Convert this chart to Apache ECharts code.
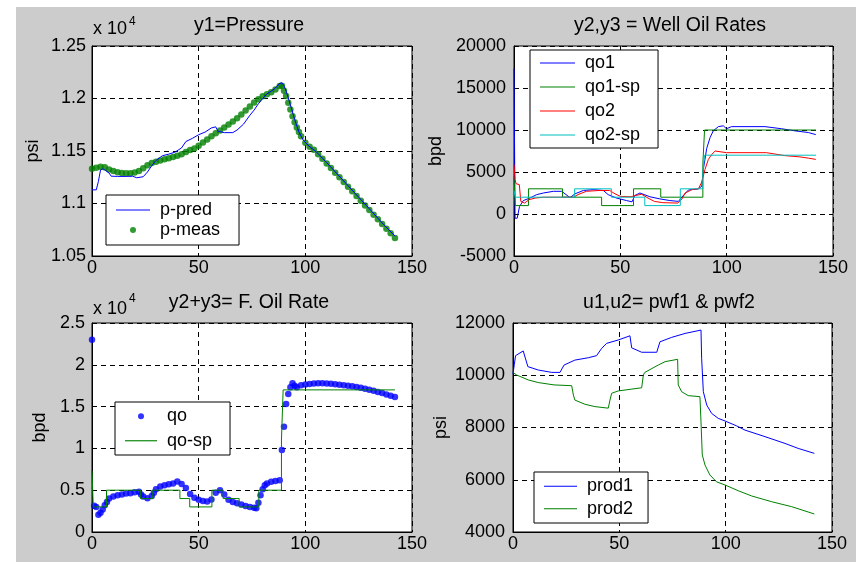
<!DOCTYPE html>
<html>
<head>
<meta charset="utf-8">
<script src="https://cdn.jsdelivr.net/npm/echarts@6/dist/echarts.min.js"></script>
<style>
html,body{margin:0;padding:0;background:#fff}
#main{width:856px;height:562px}
</style>
</head>
<body>
<div id="main"></div>
<script>
// ---- values ----
// y1 = pressure (x 10^4 psi)
var pPredT = [0,2,3,4,5,6,8,9,12,16,19,21,24,26,28,30,33,36,39,42,44,47,50,53,56,58,59,62,66,68,71,74,76,78,80,82,84,86,88,89,90,91,93,95,97,99,101,103,105,110,120,130,136,142];
var pPredV = [1.113,1.113,1.121,1.132,1.133,1.132,1.129,1.126,1.1258,1.1258,1.126,1.1245,1.1255,1.130,1.136,1.141,1.1455,1.147,1.149,1.153,1.159,1.162,1.1655,1.168,1.172,1.173,1.169,1.1675,1.1675,1.170,1.1755,1.184,1.189,1.195,1.2,1.2045,1.207,1.210,1.2145,1.215,1.212,1.207,1.194,1.180,1.168,1.1605,1.156,1.1525,1.1495,1.139,1.117,1.095,1.0815,1.069];
var pMeasT = [0,2,4,6,8,10,12,14,16,18,20,22,24,26,28,30,32,34,36,38,40,42,44,46,48,50,52,54,56,58,60,62,64,66,68,70,72,74,76,78,80,82,84,86,88,89,90,91,92,93,94,95,96,97,98,100,102,104,106,108,110,112,114,116,118,120,122,124,126,128,130,132,134,136,138,140,142];
var pMeasV = [1.133,1.134,1.135,1.1345,1.1325,1.131,1.1298,1.129,1.1287,1.1288,1.1295,1.131,1.1335,1.1365,1.1385,1.1398,1.141,1.1422,1.1432,1.1442,1.1455,1.147,1.149,1.151,1.1525,1.155,1.158,1.161,1.164,1.167,1.1695,1.1725,1.1752,1.178,1.1812,1.1848,1.1885,1.1925,1.1962,1.1992,1.2022,1.204,1.206,1.2085,1.2118,1.2122,1.2075,1.2025,1.196,1.1895,1.183,1.1775,1.1725,1.168,1.164,1.1578,1.154,1.1512,1.147,1.1426,1.1382,1.1338,1.1293,1.1249,1.1204,1.116,1.1116,1.1071,1.1027,1.0982,1.0938,1.0893,1.0849,1.0804,1.076,1.0716,1.0671];

// y2,y3 = well oil rates (bpd)
var qo1T = [0,0.5,1.5,2.2,2.6,4.4,7.5,10.6,13.8,18.5,22.4,24,26.3,28.7,32.6,37.3,42,44.3,48.2,52.9,55.5,56.8,59.2,63.9,68.6,73.3,77.3,78.9,82,86.7,88.3,89,89.8,90.6,92.2,93.7,96.1,98.4,99.9,102.3,118,125.8,132.1,138.4,141.9];
var qo1V = [17300,-500,-500,-450,900,1600,1900,2300,2500,2700,2700,2400,1950,2400,2800,2900,2800,2300,1900,1600,1450,2200,2500,2050,1800,1600,1500,2000,2850,3000,3300,5300,6500,7800,9100,9900,10400,10500,10150,10400,10400,10150,9900,9700,9450];
var qo1SpT = [0,0.6,6.8,22.8,41.2,56.2,69,88.8,89.6,142];
var qo1SpV = [4500,1000,3000,2000,1000,3000,2000,6000,10000,10000];
var qo2T = [0,0.5,1,2.5,3.2,5,7,10,14,20,25,28,30,34,40,45,47.5,50,55,57,60,63,66,70,77,79,80.5,83.6,86.7,88.3,89.8,91.4,93,94.6,99.9,118.7,127.3,134.4,138.4,141.9];
var qo2V = [5900,4100,3600,3500,1500,1300,1700,1900,2000,2000,2000,2000,2300,2700,2800,2800,2400,2100,2050,2200,2350,1900,1500,1350,1300,1800,2500,2900,3000,3800,5300,6500,7100,7500,7300,7300,6950,6800,6650,6500];
var qo2SpT = [0,0.6,28.5,45.8,61.5,78.2,88.8,89.6,142];
var qo2SpV = [2800,2000,3000,2000,1000,3000,5000,7000,7000];

// y2+y3 = field oil rate (bpd)
var qoT = [0,1,2,3,4,5,6,7,8,10,12,14,16,18,20,22,23,24,26,28,29,30,32,34,36,38,40,42,44,46,48,50,52,54,56,58,60,62,64,66,68,70,72,74,76,77,78,79,80,81,82,84,86,88,89,90,91,92,93,94,95,96,98,100,102,104,106,108,110,112,114,116,118,120,122,124,126,128,130,132,134,136,138,140,142];
var qoV = [23000,3150,3000,2050,2300,2700,3200,3600,4000,4250,4400,4500,4600,4650,4750,4800,4500,4250,4050,4300,4700,5100,5450,5600,5700,5800,6050,5750,5250,4550,4100,3850,3700,3650,3900,4700,5000,4500,3850,3600,3450,3300,3100,3000,2900,2850,3500,4400,5100,5600,5800,6000,6100,6200,9800,12600,15300,16500,17300,17800,17500,17300,17550,17650,17700,17750,17780,17780,17760,17720,17680,17620,17560,17500,17420,17330,17240,17140,17020,16900,16760,16620,16450,16300,16150];
var qoSpT = [0,0.6,6.8,22.8,28.5,41.2,45.8,56.2,61.5,69,78.2,88.8,89.6,142];
var qoSpV = [7300,3000,5000,4000,5000,4000,3000,5000,4000,3000,5000,11000,17000,17000];

// u1,u2 = bottom hole pressures (psi)
var prod1T = [0,0.6,1.2,1.7,4.8,5.6,7,11.9,18.2,22.1,24,29.1,35.4,39.3,41.7,44,49.5,55,55.8,56.5,60.5,67.6,69.1,74.6,80.9,88.4,88.7,89.5,91.1,93.4,96.5,99.7,105.2,109.1,118.5,127.9,134.1,141.7];
var prod1V = [10050,10400,10750,10800,10930,10930,10330,10200,10110,10110,10390,10580,10670,10750,11030,11220,11350,11510,11050,10990,10880,10880,11280,11450,11600,11730,10650,9370,8860,8540,8350,8250,8060,7900,7650,7390,7200,7010];
var prod2T = [0,1.7,7.2,11.9,19.3,27.6,28.4,29.1,33.8,38.5,44.8,45.6,46.4,49.5,55.8,60.5,61.3,62,68.3,71.5,77.4,77.7,79.3,82.4,87.9,88.4,89,90.3,92.6,95.7,99.7,105.9,112.2,121.6,131,141.7];
var prod2V = [10110,10010,9820,9720,9630,9600,9240,9050,8890,8800,8740,9050,9310,9400,9470,9520,10010,10110,10390,10520,10610,9630,9370,9220,9180,8220,6950,6560,6180,5920,5800,5580,5380,5160,4970,4690];

var titles = ['y1=Pressure', 'y2,y3 = Well Oil Rates', 'y2+y3= F. Oil Rate', 'u1,u2= pwf1 & pwf2'];
var yNames = ['psi', 'bpd', 'bpd', 'psi'];

var FONT = 'Liberation Sans, Arial, Helvetica, sans-serif';
var BLUE = '#0000ff', GREEN = '#008000', RED = '#ff0000', CYAN = '#00bfbf';
// plain line for the legend (no symbol in the middle)
var LINE_ICON = 'path://M0,0L34,0L34,1.2L0,1.2Z';

function zip(t, v) {
	var out = [];
	for (var i = 0; i < t.length; i++) {
		out.push([t[i], v[i]]);
	}
	return out;
}

var grids = [
	{left: 92, top: 46, width: 320, height: 210},
	{left: 514, top: 46, width: 319, height: 210},
	{left: 92, top: 323, width: 320, height: 209},
	{left: 513, top: 323, width: 319, height: 209}
];
grids.forEach(function (g) {
	g.show = true;
	g.backgroundColor = '#fff';
	g.borderColor = '#000';
	g.borderWidth = 1;
});

var gridLine = {show: true, lineStyle: {color: '#000', width: 1, type: [5, 4]}};

function plainNum(v) {
	return String(v);
}

function xAxisOf(i) {
	return {
		type: 'value', gridIndex: i, min: 0, max: 150, interval: 50,
		axisLine: {show: true, onZero: false, lineStyle: {color: '#000'}},
		axisTick: {show: false},
		axisLabel: {color: '#000', fontSize: 18, fontFamily: FONT, margin: 3, formatter: plainNum},
		splitLine: gridLine
	};
}

function yAxisOf(i, min, max, step, gap, margin, fmt) {
	return {
		type: 'value', gridIndex: i, min: min, max: max, interval: step,
		name: yNames[i], nameLocation: 'middle', nameGap: gap,
		nameTextStyle: {color: '#000', fontSize: 18, fontFamily: FONT},
		axisLine: {show: true, lineStyle: {color: '#000'}},
		axisTick: {show: false},
		axisLabel: {color: '#000', fontSize: 18, fontFamily: FONT, margin: margin, formatter: fmt || plainNum},
		splitLine: gridLine
	};
}

function lineSeries(name, i, t, v, color, step) {
	return {
		name: name, type: 'line', xAxisIndex: i, yAxisIndex: i,
		data: zip(t, v), symbol: 'none', step: step || false,
		lineStyle: {color: color, width: 1}, itemStyle: {color: color}
	};
}

function dotSeries(name, i, t, v, color, size) {
	return {
		name: name, type: 'scatter', xAxisIndex: i, yAxisIndex: i,
		data: zip(t, v), symbol: 'circle', symbolSize: size,
		itemStyle: {color: color}
	};
}

// items: [name, isDot]
function legendOf(items, left, top, pad, iconW, lh) {
	return {
		data: items.map(function (it) {
			return it[1] ? {name: it[0], icon: 'circle'} : {name: it[0], icon: LINE_ICON};
		}),
		orient: 'vertical', left: left, top: top,
		backgroundColor: '#fff', borderColor: '#000', borderWidth: 1, borderRadius: 0,
		padding: pad, itemGap: 0, itemWidth: iconW, itemHeight: 6,
		selectedMode: false,
		textStyle: {color: '#000', fontSize: 18, fontFamily: FONT, lineHeight: lh, padding: [0, 0, 0, 5]}
	};
}

var titleX = [249, 670, 249, 669];
var titleY = [26, 26, 303, 303];

var myChart = echarts.init(document.getElementById('main'));
var option = {
	animation: false,
	backgroundColor: '#cccccc',
	textStyle: {fontFamily: FONT},
	title: titles.map(function (t, i) {
		return {
			text: t, left: titleX[i], top: titleY[i], padding: 0,
			textAlign: 'center', textVerticalAlign: 'middle',
			textStyle: {color: '#000', fontSize: 19.5, fontWeight: 'normal', fontFamily: FONT}
		};
	}),
	graphic: [
		{type: 'rect', shape: {x: 0, y: 0, width: 16, height: 562}, style: {fill: '#fff'}, silent: true},
		{type: 'rect', shape: {x: 0, y: 0, width: 856, height: 7}, style: {fill: '#fff'}, silent: true},
		{type: 'text', x: 93, y: 29, style: {text: 'x 10', fill: '#000', font: '18px ' + FONT, verticalAlign: 'middle'}},
		{type: 'text', x: 129, y: 22, style: {text: '4', fill: '#000', font: '12px ' + FONT, verticalAlign: 'middle'}},
		{type: 'text', x: 93, y: 309, style: {text: 'x 10', fill: '#000', font: '18px ' + FONT, verticalAlign: 'middle'}},
		{type: 'text', x: 129, y: 299, style: {text: '4', fill: '#000', font: '12px ' + FONT, verticalAlign: 'middle'}}
	],
	grid: grids,
	xAxis: [xAxisOf(0), xAxisOf(1), xAxisOf(2), xAxisOf(3)],
	yAxis: [
		yAxisOf(0, 1.05, 1.25, 0.05, 50, 6),
		yAxisOf(1, -5000, 20000, 5000, 69, 8),
		yAxisOf(2, 0, 25000, 5000, 43, 7, function (v) { return String(v / 10000); }),
		yAxisOf(3, 4000, 12000, 2000, 63, 8)
	],
	legend: [
		legendOf([['p-pred', false], ['p-meas', true]], 106, 195, [5, 19, 5, 10], 34, 20),
		legendOf([['qo1', false], ['qo1-sp', false], ['qo2', false], ['qo2-sp', false]], 530, 50, [1, 18, 1, 10], 35, 24),
		legendOf([['qo', true], ['qo-sp', false]], 115, 402, [2, 18, 2, 10], 32, 24.5),
		legendOf([['prod1', false], ['prod2', false]], 534, 472, [3, 15, 3, 10], 33, 22.5)
	],
	series: [
		lineSeries('p-pred', 0, pPredT, pPredV, BLUE),
		dotSeries('p-meas', 0, pMeasT, pMeasV, GREEN, 6.5),
		lineSeries('qo1', 1, qo1T, qo1V, BLUE),
		lineSeries('qo1-sp', 1, qo1SpT, qo1SpV, GREEN, 'end'),
		lineSeries('qo2', 1, qo2T, qo2V, RED),
		lineSeries('qo2-sp', 1, qo2SpT, qo2SpV, CYAN, 'end'),
		dotSeries('qo', 2, qoT, qoV, BLUE, 6.5),
		lineSeries('qo-sp', 2, qoSpT, qoSpV, GREEN, 'end'),
		lineSeries('prod1', 3, prod1T, prod1V, BLUE),
		lineSeries('prod2', 3, prod2T, prod2V, GREEN)
	]
};
myChart.setOption(option);
</script>
</body>
</html>
